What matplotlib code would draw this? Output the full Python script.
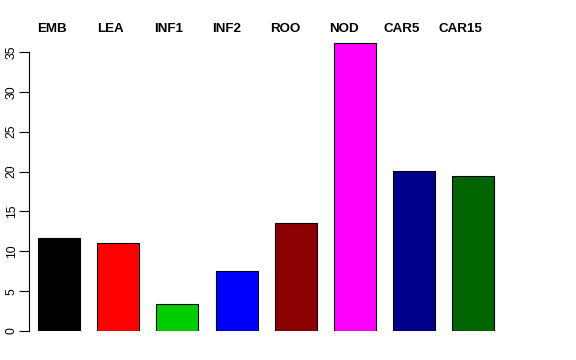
import numpy as np
import matplotlib
matplotlib.use("Agg")
from matplotlib import pyplot as plt

plt.rcParams['font.family'] = ['Liberation Sans', 'DejaVu Sans']

names = ["EMB", "LEA", "INF1", "INF2", "ROO", "NOD", "CAR5", "CAR15"]
vals = [11.65, 11.1, 3.4, 7.5, 13.6, 36.1, 20.05, 19.45]
cols = ["#000000", "#FF0000", "#00CD00", "#0000FF", "#8B0000", "#FF00FF", "#00008B", "#006400"]
yticks = [0, 5, 10, 15, 20, 25, 30, 35]

W, H = 576, 360
fig = plt.figure(figsize=(W / 100, H / 100), dpi=100)

# axes box in pixels: left 29, right 503, bottom 331, top 40
ax = fig.add_axes([29 / W, (H - 331) / H, (503 - 29) / W, (331 - 40) / H])
x = np.arange(len(names))
ax.bar(x, vals, width=0.71, color=cols, edgecolor="black", linewidth=0.8)
ax.set_xlim(-0.507, 7.5)
ax.set_ylim(0, 36.5)

for s in ["top", "right", "bottom"]:
    ax.spines[s].set_visible(False)
ax.spines["left"].set_bounds(0, 35)
ax.spines["left"].set_linewidth(0.8)
ax.set_xticks([])
ax.set_yticks(yticks)
ax.set_yticklabels([str(t) for t in yticks], rotation=90, va="center", fontsize=8.8)
ax.tick_params(axis="y", length=7.5, width=0.8, pad=0.5)

# names sit a bit left of the bar centres, like the original
for i, n in enumerate(names):
    fig.text((52 + 58.3 * i) / W, (H - 29) / H, n,
             ha="center", va="center", fontsize=9.6, fontweight="bold")

fig.savefig("out.png", dpi=100)
